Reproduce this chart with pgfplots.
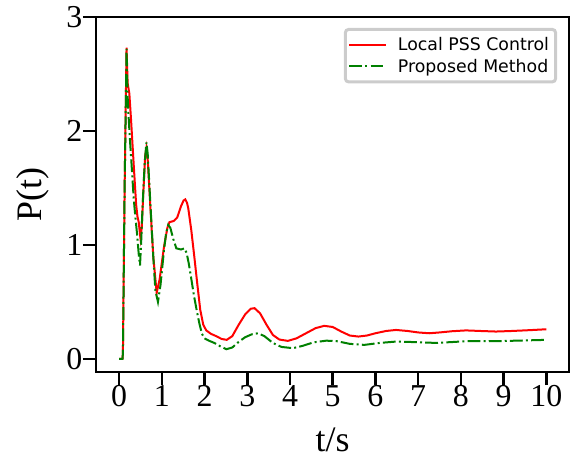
\documentclass[border=0pt]{standalone}
\usepackage{fontspec}
\setmainfont{Liberation Serif}
\newfontfamily\legfont{DejaVu Sans}
\usepackage{pgfplots}
\pgfplotsset{compat=1.18}
\begin{document}
\begin{tikzpicture}
\begin{axis}[
  at={(0,0)}, anchor=south west,
  scale only axis, width=473bp, height=355bp,
  xmin=-0.54, xmax=10.53, ymin=-0.115, ymax=3,
  xtick={0,1,2,3,4,5,6,7,8,9,10}, ytick={0,1,2,3},
  xtick pos=bottom, ytick pos=left,
  tick align=outside, major tick length=13bp,
  every tick/.style={black, line width=2.5bp},
  axis line style={black, line width=2.7bp},
  /pgf/number format/assume math mode=true,
  tick label style={font=\fontsize{32}{36}\selectfont},
  xticklabel style={inner sep=0.5bp},
  yticklabel style={inner sep=0.5bp},
  xlabel={t/s}, ylabel={P(t)},
  label style={font=\fontsize{36}{40}\selectfont},
  xlabel style={at={(axis description cs:0.5,0)}, anchor=center, yshift=-68bp},
  ylabel style={at={(axis description cs:0,0.5)}, anchor=center, yshift=63bp},
  legend style={at={(1,1)}, anchor=north east, xshift=-12bp, yshift=-11bp,
    draw=black!20, line width=3bp, rounded corners=3bp,
    font=\legfont\fontsize{17.4}{20}\selectfont,
    inner xsep=3bp, inner ysep=4.5bp, row sep=0bp,
    nodes={inner sep=3.5bp},
    /tikz/every odd column/.append style={column sep=7bp}},
  legend cell align=left,
  legend image code/.code={\draw[#1] (0bp,0bp) -- (37bp,0bp);},
]
\addplot[red, line width=2bp] coordinates {
(0,0) (0.08,0) (0.09,0.05) (0.13,1.5) (0.175,2.73) (0.2,2.42) (0.24,2.33) (0.28,2.1) (0.34,1.72) (0.40,1.35) (0.43,1.25) (0.46,1.2) (0.50,1.06) (0.53,1.15) (0.57,1.48) (0.61,1.78) (0.64,1.85) (0.67,1.75) (0.73,1.35) (0.80,0.9) (0.88,0.58) (0.95,0.7) (1.05,0.98) (1.13,1.15) (1.18,1.20) (1.28,1.21) (1.36,1.24) (1.45,1.34) (1.51,1.39) (1.55,1.40) (1.59,1.37) (1.62,1.32) (1.69,1.13) (1.76,0.9) (1.83,0.66) (1.90,0.43) (1.97,0.30) (2.04,0.25) (2.15,0.22) (2.27,0.20) (2.40,0.175) (2.52,0.167) (2.65,0.2) (2.8,0.3) (2.95,0.39) (3.08,0.44) (3.17,0.445) (3.3,0.4) (3.45,0.3) (3.6,0.21) (3.75,0.17) (3.95,0.158) (4.15,0.18) (4.4,0.23) (4.6,0.27) (4.8,0.29) (5.0,0.28) (5.2,0.24) (5.4,0.205) (5.6,0.196) (5.8,0.205) (6.0,0.225) (6.25,0.245) (6.48,0.254) (6.75,0.245) (7.0,0.232) (7.26,0.225) (7.5,0.232) (7.8,0.243) (8.12,0.25) (8.45,0.245) (8.82,0.24) (9.2,0.245) (9.6,0.252) (10,0.26)
};
\addlegendentry{Local PSS Control}
\addplot[color={rgb,255:red,0;green,128;blue,0}, line width=2bp, dash pattern=on 12.8bp off 3.2bp on 2bp off 3.2bp] coordinates {
(0,0) (0.08,0) (0.09,0.05) (0.13,1.5) (0.175,2.72) (0.195,2.35) (0.215,2.18) (0.25,1.95) (0.29,1.72) (0.34,1.42) (0.38,1.25) (0.42,1.10) (0.46,0.92) (0.49,0.82) (0.52,1.05) (0.55,1.34) (0.6,1.72) (0.64,1.90) (0.67,1.8) (0.73,1.38) (0.80,0.9) (0.85,0.6) (0.91,0.50) (0.97,0.65) (1.05,0.95) (1.1,1.1) (1.15,1.175) (1.2,1.15) (1.27,1.05) (1.34,0.97) (1.45,0.96) (1.53,0.97) (1.58,0.93) (1.63,0.84) (1.7,0.68) (1.75,0.56) (1.82,0.42) (1.88,0.31) (1.94,0.22) (2.0,0.18) (2.1,0.16) (2.23,0.14) (2.37,0.11) (2.51,0.085) (2.65,0.1) (2.8,0.15) (2.95,0.19) (3.1,0.215) (3.25,0.225) (3.4,0.2) (3.6,0.14) (3.8,0.105) (4.07,0.094) (4.3,0.115) (4.55,0.145) (4.85,0.16) (5.1,0.155) (5.4,0.132) (5.74,0.123) (6.1,0.14) (6.48,0.152) (6.95,0.147) (7.42,0.14) (7.8,0.148) (8.12,0.155) (8.6,0.155) (9.0,0.157) (9.5,0.162) (10,0.167)
};
\addlegendentry{Proposed Method}
\end{axis}
\pgfresetboundingbox
\path (-96bp,-91bp) rectangle (481bp,372bp);
\end{tikzpicture}
\end{document}
